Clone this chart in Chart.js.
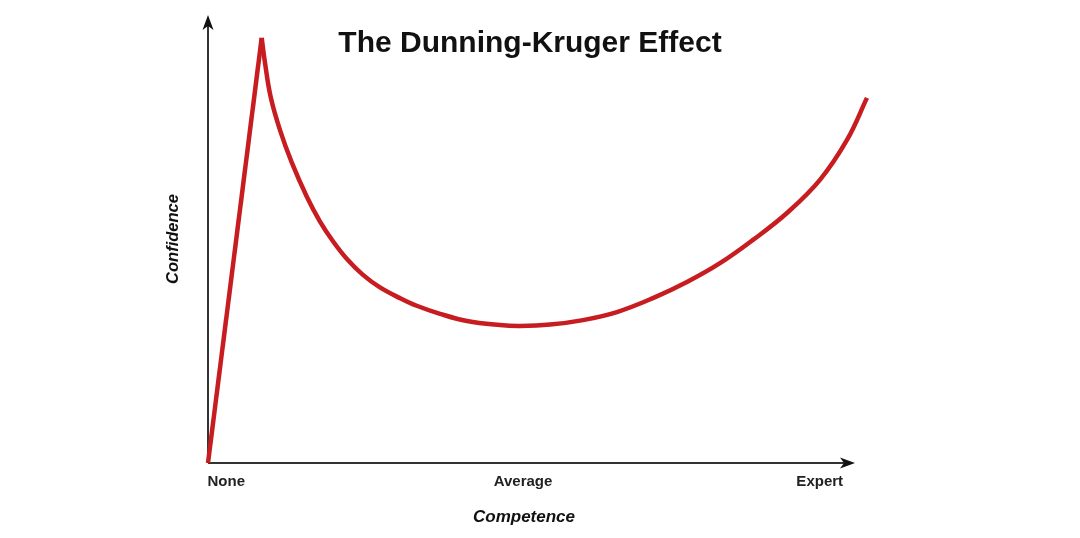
<!DOCTYPE html>
<html lang="en">
<head>
<meta charset="UTF-8">
<title>The Dunning-Kruger Effect</title>
<style>
  html, body { margin: 0; padding: 0; background: #fff; }
  canvas { display: block; }
</style>
</head>
<body>
<canvas id="dk" width="1080" height="538"></canvas>
<script src="https://cdn.jsdelivr.net/npm/chart.js"></script>
<script>
const chartTitle = "The Dunning-Kruger Effect"
const xTitle = "Competence"
const yTitle = "Confidence"
const tickLabels = ["None", "Average", "Expert"]
const tickValues = [2.9, 50, 97.1]

// straight climb from nothing to the peak
const riseX = [0, 8.52]
const riseY = [0, 94.9]

// drop into the valley, then the long climb back up
const curveX = [8.52, 9.05, 9.95, 11.43, 13.29, 15.67, 17.78, 19.84, 22.02, 24.6, 27.3, 30.48, 33.13,
  36.83, 41.11, 46.35, 49.52, 54.29, 59.52, 64.92, 70.63, 76.03, 81.27, 86.51, 91.9, 97.14, 101.43, 104.6]
const curveY = [94.9, 89.3, 81.7, 74.3, 67.1, 59.5, 53.9, 49.5, 45.6, 42.0, 39.2, 36.8, 35.1,
  33.3, 31.7, 30.8, 30.6, 30.9, 31.9, 33.7, 36.8, 40.4, 44.6, 49.8, 55.8, 63.2, 72.1, 81.5]

const xAxisEnd = 102.7
const red = "#c71c20"
const axisColor = "#333"

const toPoints = (xs, ys) => xs.map((x, i) => ({ x: x, y: ys[i] }))

// axes with arrow heads + the title inside the plot
const decor = {
  id: "decor",
  beforeDatasetsDraw(chart) {
    const ctx = chart.ctx
    const xs = chart.scales.x
    const ys = chart.scales.y
    const x0 = xs.getPixelForValue(0)
    const y0 = ys.getPixelForValue(0)
    const xEnd = xs.getPixelForValue(xAxisEnd)
    const yEnd = ys.getPixelForValue(100)
    ctx.save()
    ctx.strokeStyle = axisColor
    ctx.fillStyle = "#111"
    ctx.lineWidth = 2
    ctx.beginPath()
    ctx.moveTo(x0, y0)
    ctx.lineTo(xEnd - 8, y0)
    ctx.moveTo(x0, y0)
    ctx.lineTo(x0, yEnd + 8)
    ctx.stroke()
    ctx.beginPath()
    ctx.moveTo(xEnd, y0)
    ctx.lineTo(xEnd - 15, y0 - 5.5)
    ctx.lineTo(xEnd - 11, y0)
    ctx.lineTo(xEnd - 15, y0 + 5.5)
    ctx.closePath()
    ctx.fill()
    ctx.beginPath()
    ctx.moveTo(x0, yEnd)
    ctx.lineTo(x0 - 5.5, yEnd + 15)
    ctx.lineTo(x0, yEnd + 11)
    ctx.lineTo(x0 + 5.5, yEnd + 15)
    ctx.closePath()
    ctx.fill()
    ctx.restore()
  },
  afterDraw(chart) {
    const ctx = chart.ctx
    ctx.save()
    ctx.font = "bold 30px 'Liberation Sans', Arial, sans-serif"
    ctx.fillStyle = "#111"
    ctx.textAlign = "center"
    ctx.textBaseline = "alphabetic"
    ctx.fillText(chartTitle, 530, 52)
    ctx.restore()
  }
}

new Chart(document.getElementById("dk"), {
  type: "scatter",
  data: {
    datasets: [
      {
        data: toPoints(riseX, riseY),
        showLine: true,
        borderColor: red,
        borderWidth: 4.5,
        pointRadius: 0,
        tension: 0,
        borderCapStyle: "butt",
        borderJoinStyle: "miter"
      },
      {
        // reversed so chart.js doesn't trim the points past the x max (curve runs beyond the arrow)
        data: toPoints(curveX, curveY).reverse(),
        showLine: true,
        borderColor: red,
        borderWidth: 4.5,
        pointRadius: 0,
        tension: 0.4,
        borderCapStyle: "butt"
      }
    ]
  },
  options: {
    responsive: false,
    animation: false,
    clip: false,
    // plot area ends at 840px so the axis title centres under "Average"
    layout: { padding: { left: 160, right: 240, top: 15, bottom: 6 } },
    plugins: {
      legend: { display: false },
      tooltip: { enabled: false }
    },
    scales: {
      x: {
        type: "linear",
        min: 0,
        max: 100.32,
        grid: { display: false, drawTicks: false },
        border: { display: false },
        afterBuildTicks: s => { s.ticks = tickValues.map(v => ({ value: v })) },
        afterFit: s => { s.height = 69 },
        ticks: {
          autoSkip: false,
          maxRotation: 0,
          padding: 10,
          color: "#222",
          font: { family: "'Liberation Sans', Arial, sans-serif", size: 15, weight: "bold" },
          callback: (v, i) => tickLabels[i]
        },
        title: {
          display: true,
          text: xTitle,
          color: "#111",
          font: { family: "'Liberation Sans', Arial, sans-serif", size: 17, weight: "bold", style: "italic" }
        }
      },
      y: {
        type: "linear",
        min: 0,
        max: 100,
        grid: { display: false, drawTicks: false },
        border: { display: false },
        ticks: { display: false },
        afterFit: s => { s.width = 48 },
        title: {
          display: true,
          text: yTitle,
          color: "#111",
          font: { family: "'Liberation Sans', Arial, sans-serif", size: 16.5, weight: "bold", style: "italic" }
        }
      }
    }
  },
  plugins: [decor]
})
</script>
</body>
</html>
